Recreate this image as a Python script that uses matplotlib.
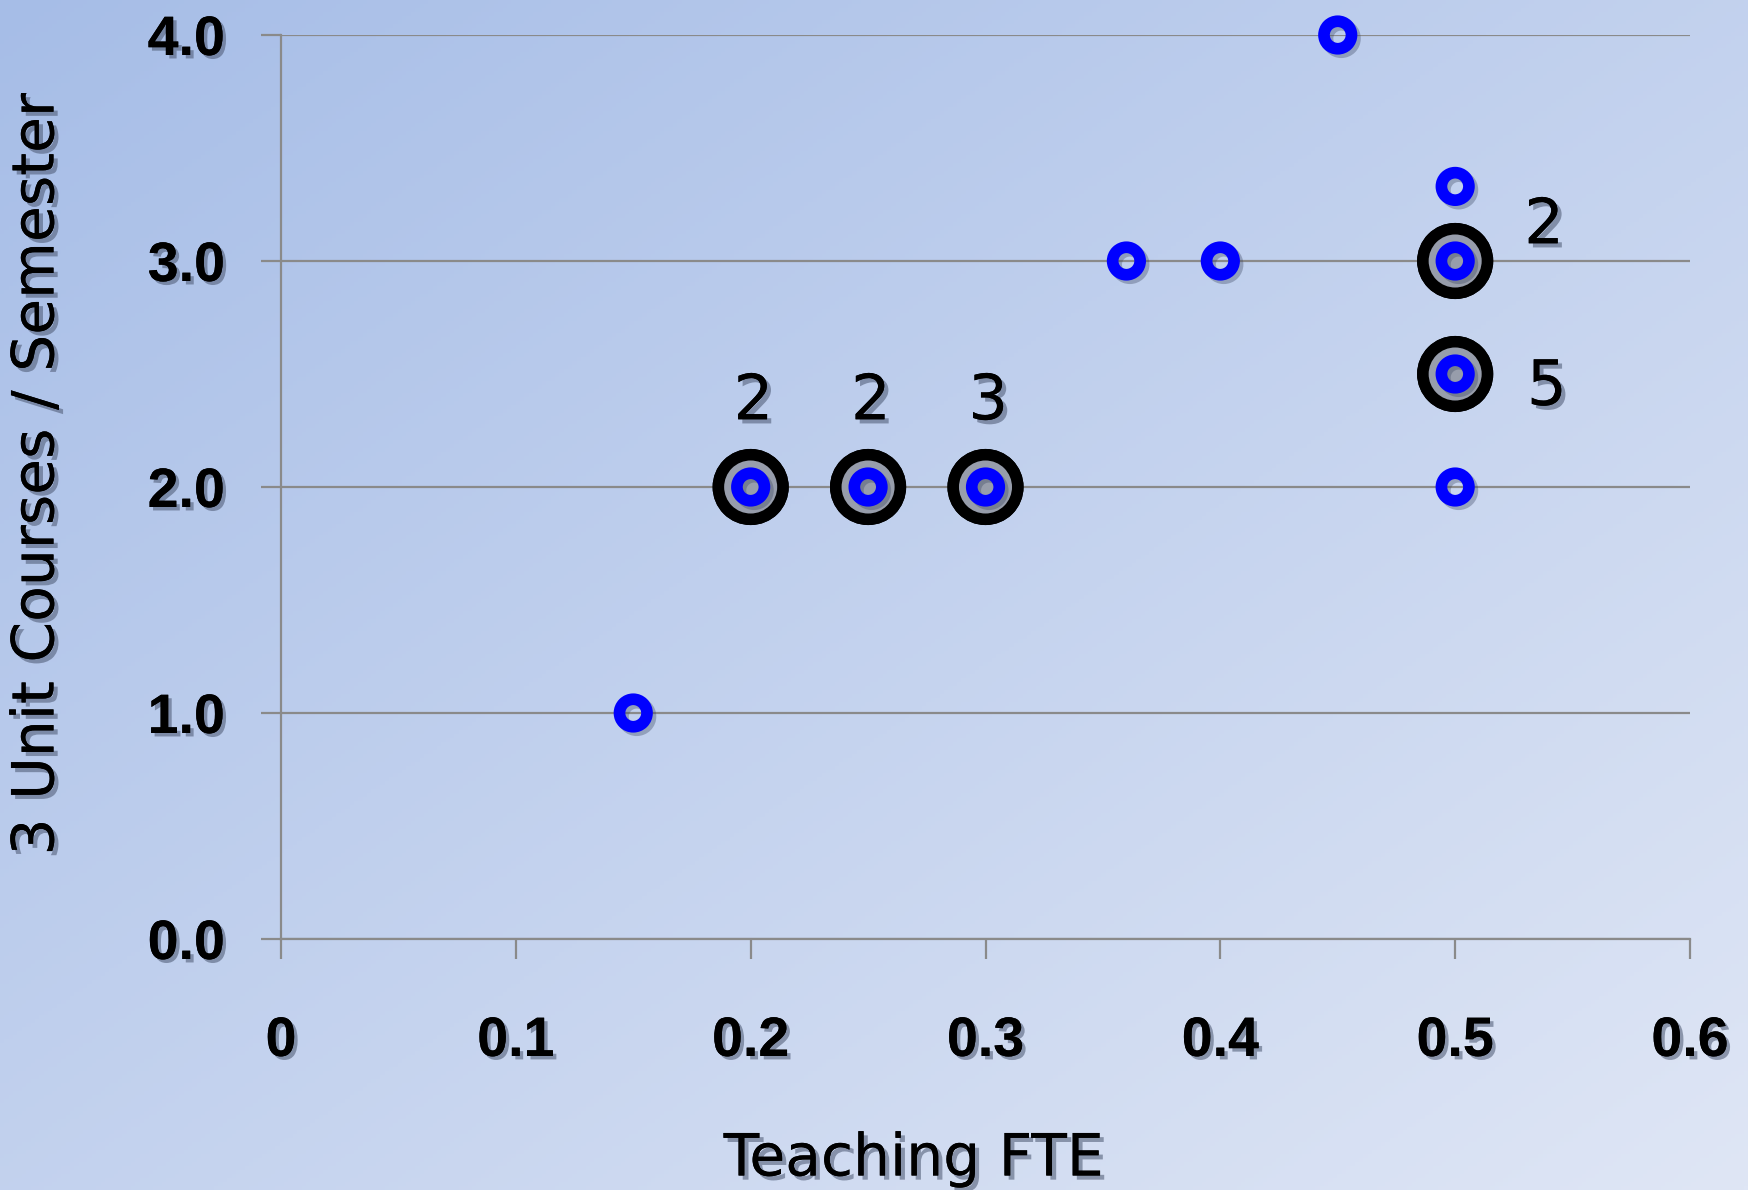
import numpy as np
import matplotlib
matplotlib.use("Agg")
import matplotlib.pyplot as plt
import matplotlib.patheffects as pe

# ---- data ----
fte = [0.15, 0.2, 0.25, 0.3, 0.36, 0.4, 0.45, 0.5, 0.5, 0.5, 0.5]
courses = [1.0, 2.0, 2.0, 2.0, 3.0, 3.0, 4.0, 3.33, 3.0, 2.5, 2.0]
counts = [1, 2, 2, 3, 1, 1, 1, 1, 2, 5, 1]
x_ticks = [0, 0.1, 0.2, 0.3, 0.4, 0.5, 0.6]
x_tick_labels = ["0", "0.1", "0.2", "0.3", "0.4", "0.5", "0.6"]
y_ticks = [0, 1, 2, 3, 4]
y_tick_labels = ["0.0", "1.0", "2.0", "3.0", "4.0"]

plt.rcParams['font.family'] = ['DejaVu Sans']

W, H = 1748, 1190
fig = plt.figure(figsize=(W / 100, H / 100), dpi=100)

# background gradient
bg = fig.add_axes([0, 0, 1, 1], zorder=-10)
u = np.linspace(0, 1, 400)
v = np.linspace(0, 1, 300)
U, V = np.meshgrid(u, v)
t = (U + V) / 2.0
c_tl = np.array([0xa6, 0xbd, 0xe7]) / 255.0
c_br = np.array([0xdf, 0xe6, 0xf5]) / 255.0
img = c_tl[None, None, :] * (1 - t[..., None]) + c_br[None, None, :] * t[..., None]
bg.imshow(img, extent=[0, 1, 0, 1], aspect='auto', origin='upper')
bg.set_axis_off()

left, right = 281 / W, 1690 / W
bottom, top = 1 - 939 / H, 1 - 35 / H
ax = fig.add_axes([left, bottom, right - left, top - bottom])
ax.patch.set_alpha(0)
ax.set_xlim(0, 0.6)
ax.set_ylim(0, 4)

grid_c = '#8a8a8a'
for s in ['top', 'right']:
    ax.spines[s].set_visible(False)
for s in ['left', 'bottom']:
    ax.spines[s].set_color(grid_c)
    ax.spines[s].set_linewidth(1.6)
ax.yaxis.grid(True, color=grid_c, linewidth=1.6)
ax.set_axisbelow(True)

shadow = [pe.withSimplePatchShadow(offset=(2.5, -2.5), shadow_rgbFace='#4a5670', alpha=0.55), pe.Normal()]

ax.set_xticks(x_ticks)
ax.set_xticklabels(x_tick_labels)
ax.set_yticks(y_ticks)
ax.set_yticklabels(y_tick_labels)
ax.tick_params(axis='both', direction='out', length=14.4, width=1.6, color=grid_c)
ax.tick_params(axis='x', pad=41)
ax.tick_params(axis='y', pad=26)
for lab in ax.get_xticklabels() + ax.get_yticklabels():
    lab.set_fontweight('bold')
    lab.set_fontfamily(['Liberation Sans'])
    lab.set_fontsize(40)
    lab.set_path_effects(shadow)

mshadow = [pe.withSimplePatchShadow(offset=(3, -3), shadow_rgbFace='#3a4560', alpha=0.45), pe.Normal()]
rshadow = [pe.SimpleLineShadow(offset=(2.5, -2.5), shadow_color='#3a4560', alpha=0.35), pe.Normal()]

# big markers for repeated points
for x, y, n in zip(fte, courses, counts):
    if n > 1:
        ax.plot([x], [y], 'o', ms=46.5, mew=8.3, mec='black', mfc='#979dab',
                clip_on=False, zorder=3, path_effects=mshadow)

# blue ring markers
ax.plot(fte, courses, 'o', ls='none', ms=19.8, mew=8.4, mec='#0000ff', mfc='none',
        clip_on=False, zorder=4, path_effects=rshadow)

# count labels
tshadow = [pe.withSimplePatchShadow(offset=(3, -3), shadow_rgbFace='#4a5670', alpha=0.55), pe.Normal()]
for x, y, n in zip(fte, courses, counts):
    if n > 1:
        if x >= 0.5:
            off = (64, 25) if y >= 3 else (66, -10)
        else:
            off = (2, 61)
        ax.annotate(str(n), (x, y), xytext=off, textcoords='offset points',
                    ha='center', va='center', fontsize=45, color='black',
                    path_effects=tshadow, zorder=5, annotation_clip=False)

# axis labels
fig.text(914 / W, 1 - 1159 / H, 'Teaching FTE', ha='center', va='center',
         fontsize=42, path_effects=tshadow)
fig.text(37 / W, 1 - 474 / H, '3 Unit Courses / Semester', ha='center', va='center',
         rotation=90, fontsize=42, path_effects=tshadow)

fig.savefig('out.png', dpi=100)
